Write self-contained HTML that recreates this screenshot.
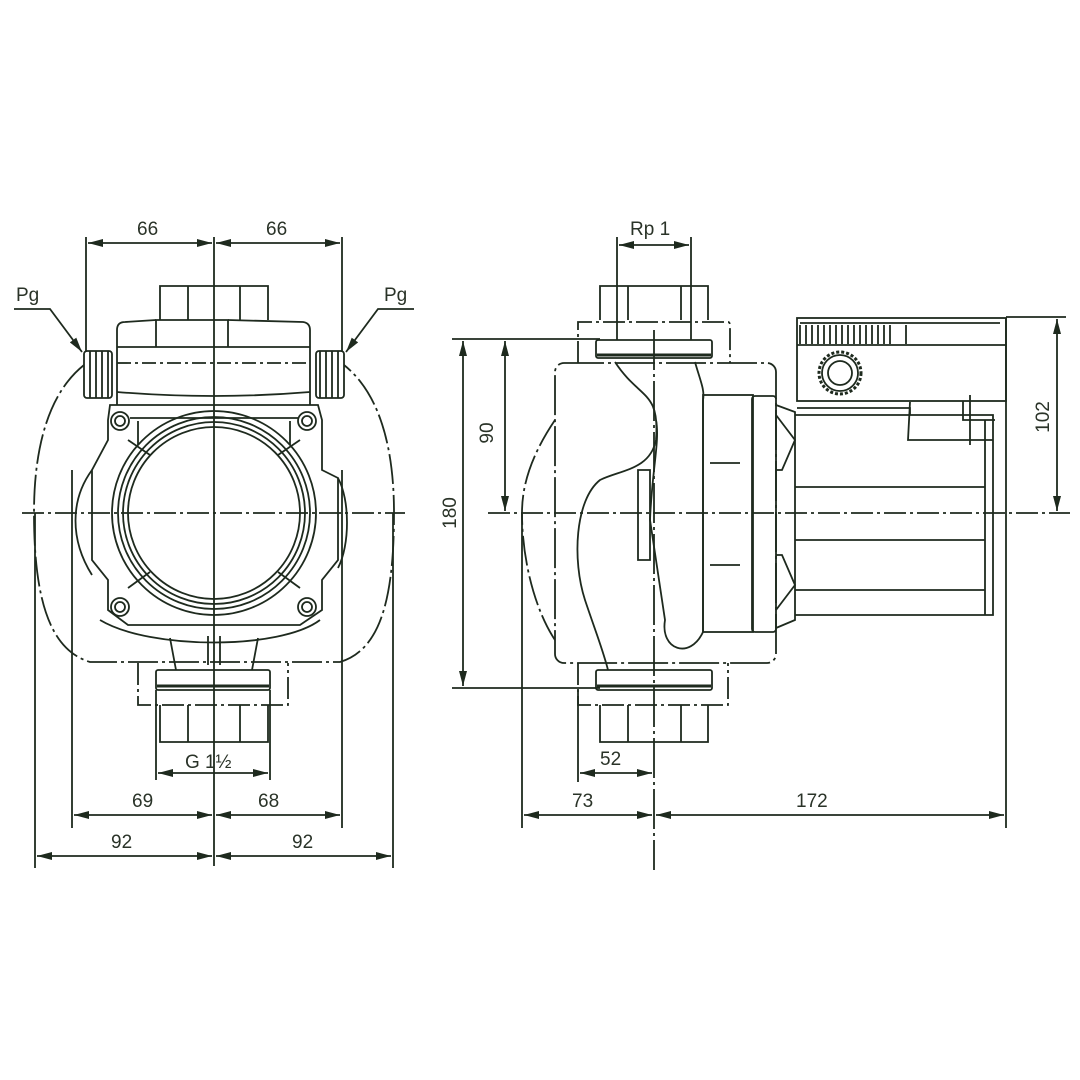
<!DOCTYPE html>
<html><head><meta charset="utf-8"><style>
html,body{margin:0;padding:0;background:#fff}
svg{display:block}
text{font-family:"Liberation Sans","DejaVu Sans",sans-serif;font-size:19px;fill:#2a3328}
</style></head><body>
<svg width="1080" height="1080" viewBox="0 0 1080 1080" xmlns="http://www.w3.org/2000/svg">
<defs>
<marker id="a" markerUnits="userSpaceOnUse" markerWidth="16" markerHeight="10" refX="15" refY="4" orient="auto-start-reverse"><path d="M0,0 L15,4 L0,8 z" fill="#1e2a1e"/></marker>
</defs>
<g fill="none" stroke="#1e2a1e" stroke-width="1.8">
<line x1="214" y1="237" x2="214" y2="866"/>
<line x1="22" y1="513" x2="405" y2="513" stroke-dasharray="22,4,3,4"/>
<line x1="86" y1="237" x2="86" y2="352"/><line x1="342" y1="237" x2="342" y2="352"/>
<line x1="88" y1="243" x2="212" y2="243" marker-start="url(#a)" marker-end="url(#a)"/>
<line x1="216" y1="243" x2="340" y2="243" marker-start="url(#a)" marker-end="url(#a)"/>
<polyline points="14,309 50,309 82,352" marker-end="url(#a)"/>
<polyline points="414,309 378,309 346,352" marker-end="url(#a)"/>
<path d="M160,320 V286 H268 V320"/><line x1="188" y1="286" x2="188" y2="320"/><line x1="240" y1="286" x2="240" y2="320"/>
<path d="M117,405 V330 Q117,322 125,322 L156,320 M228,320 L303,322 Q310,323 310,330 V405"/>
<path d="M156,347 V320 H228 V347"/>
<line x1="117" y1="347" x2="310" y2="347"/>
<line x1="117" y1="363" x2="310" y2="363" stroke-dasharray="14,4,3,4"/>
<path d="M117,392 Q214,400 310,392"/>
<rect x="84" y="351" width="28" height="47" rx="3"/>
<line x1="90" y1="351" x2="90" y2="398"/><line x1="96" y1="351" x2="96" y2="398"/><line x1="102" y1="351" x2="102" y2="398"/><line x1="108" y1="351" x2="108" y2="398"/>
<rect x="316" y="351" width="28" height="47" rx="3"/>
<line x1="320" y1="351" x2="320" y2="398"/><line x1="326" y1="351" x2="326" y2="398"/><line x1="332" y1="351" x2="332" y2="398"/><line x1="338" y1="351" x2="338" y2="398"/>
<path d="M84,365 C40,400 34,470 34,513 C34,600 50,650 90,662 H340 C380,650 394,600 394,513 C394,470 388,400 344,365" stroke-dasharray="30,4,3,4"/>
<line x1="72" y1="470" x2="72" y2="828"/><line x1="342" y1="470" x2="342" y2="828"/>
<line x1="35" y1="513" x2="35" y2="868"/><line x1="393" y1="513" x2="393" y2="868"/>
<path d="M110,405 H318 L322,420 V470 L338,478 V560 L322,580 V610 L300,625 H128 L108,610 V580 L92,560 V470 L108,440 V420 Z"/>
<path d="M92,470 C70,500 70,540 92,575 M338,478 C350,500 350,545 338,568"/>
<path d="M100,620 C150,650 280,650 320,620"/>
<circle cx="214" cy="513" r="86"/><circle cx="214" cy="513" r="91"/><circle cx="214" cy="513" r="96"/><circle cx="214" cy="513" r="102"/>
<line x1="138" y1="421" x2="138" y2="445"/><line x1="290" y1="421" x2="290" y2="445"/>
<line x1="130" y1="418" x2="298" y2="418"/>
<circle cx="120" cy="421" r="9"/><circle cx="120" cy="421" r="5"/>
<circle cx="307" cy="421" r="9"/><circle cx="307" cy="421" r="5"/>
<circle cx="120" cy="607" r="9"/><circle cx="120" cy="607" r="5"/>
<circle cx="307" cy="607" r="9"/><circle cx="307" cy="607" r="5"/>
<line x1="128" y1="440" x2="150" y2="455"/><line x1="300" y1="440" x2="278" y2="455"/>
<line x1="128" y1="588" x2="150" y2="572"/><line x1="300" y1="588" x2="278" y2="572"/>
<path d="M170,638 L176,670 M258,638 L252,670 M208,636 V665 M220,636 V665"/>
<rect x="156" y="670" width="114" height="20" rx="2"/>
<line x1="157" y1="686" x2="269" y2="686" stroke-width="3"/>
<path d="M138,663 V705 H288 V663" stroke-dasharray="22,4,3,4"/>
<path d="M160,705 V742 H268 V705"/><line x1="188" y1="705" x2="188" y2="742"/><line x1="240" y1="705" x2="240" y2="742"/>
<line x1="156" y1="690" x2="156" y2="780"/><line x1="270" y1="690" x2="270" y2="780"/>
<line x1="158" y1="773" x2="268" y2="773" marker-start="url(#a)" marker-end="url(#a)"/>
<line x1="74" y1="815" x2="212" y2="815" marker-start="url(#a)" marker-end="url(#a)"/>
<line x1="216" y1="815" x2="340" y2="815" marker-start="url(#a)" marker-end="url(#a)"/>
<line x1="37" y1="856" x2="212" y2="856" marker-start="url(#a)" marker-end="url(#a)"/>
<line x1="216" y1="856" x2="391" y2="856" marker-start="url(#a)" marker-end="url(#a)"/>

<line x1="488" y1="513" x2="1070" y2="513" stroke-dasharray="22,4,3,4"/>
<line x1="654" y1="330" x2="654" y2="870" stroke-dasharray="40,4,3,4"/>
<line x1="617" y1="237" x2="617" y2="340"/><line x1="691" y1="237" x2="691" y2="340"/>
<line x1="619" y1="245" x2="689" y2="245" marker-start="url(#a)" marker-end="url(#a)"/>
<path d="M600,320 V286 H708 V320"/><line x1="628" y1="286" x2="628" y2="320"/><line x1="681" y1="286" x2="681" y2="320"/>
<path d="M578,363 V322 H728 Q730,322 730,326 V363" stroke-dasharray="22,4,3,4"/>
<rect x="596" y="340" width="116" height="18" rx="2"/><line x1="597" y1="355" x2="711" y2="355" stroke-width="3"/>
<rect x="555" y="363" width="221" height="300" rx="9" stroke-dasharray="40,4,3,4"/>
<path d="M555,420 C528,460 522,490 522,513 C522,560 535,610 555,640" stroke-dasharray="30,4,3,4"/>
<path d="M615,362 C640,400 660,390 656,440 C650,470 620,470 600,480 C575,500 572,560 585,600 C595,630 603,650 608,670"/>
<path d="M695,362 C700,380 705,390 703,400 L703,632 C690,660 660,650 665,620 L650,520 C652,470 660,440 656,420"/>
<path d="M638,470 H650 V560 H638 Z"/>
<rect x="703" y="395" width="50" height="237"/>
<line x1="710" y1="463" x2="740" y2="463"/><line x1="710" y1="565" x2="740" y2="565"/>
<rect x="752" y="396" width="24" height="236" rx="3"/>
<path d="M776,405 L795,412 V620 L776,628"/>
<path d="M776,415 L795,440 L782,470 L776,470 M776,610 L795,585 L782,555 L776,555"/>
<path d="M795,415 H993 V615 H795"/>
<line x1="795" y1="487" x2="985" y2="487"/><line x1="795" y1="540" x2="985" y2="540"/><line x1="795" y1="590" x2="985" y2="590"/>
<line x1="985" y1="420" x2="985" y2="615"/>
<rect x="797" y="318" width="209" height="83"/>
<line x1="797" y1="345" x2="1006" y2="345"/>
<line x1="800" y1="323" x2="1000" y2="323"/>
<path d="M800,325 V344 M806,325 V344 M812,325 V344 M818,325 V344 M824,325 V344 M830,325 V344 M836,325 V344 M842,325 V344 M848,325 V344 M854,325 V344 M860,325 V344 M866,325 V344 M872,325 V344 M878,325 V344 M884,325 V344 M890,325 V344 M906,325 V344"/>
<circle cx="840" cy="373" r="21" stroke-dasharray="3,2" stroke-width="3"/><circle cx="840" cy="373" r="18"/><circle cx="840" cy="373" r="12"/>
<path d="M797,408 H910 V415 M910,402 L908,440 H993 M963,401 V420 H995 M970,395 V445"/>
<line x1="1006" y1="318" x2="1006" y2="828"/>
<line x1="1006" y1="317" x2="1066" y2="317"/><line x1="1057" y1="319" x2="1057" y2="511" marker-start="url(#a)" marker-end="url(#a)"/>
<line x1="452" y1="339" x2="600" y2="339"/><line x1="452" y1="688" x2="600" y2="688"/>
<line x1="463" y1="341" x2="463" y2="686" marker-start="url(#a)" marker-end="url(#a)"/>
<line x1="505" y1="341" x2="505" y2="511" marker-start="url(#a)" marker-end="url(#a)"/>
<rect x="596" y="670" width="116" height="20" rx="2"/><line x1="597" y1="686" x2="711" y2="686" stroke-width="3"/>
<path d="M578,663 V705 H728 V663" stroke-dasharray="22,4,3,4"/>
<path d="M600,705 V742 H708 V705"/><line x1="628" y1="705" x2="628" y2="742"/><line x1="681" y1="705" x2="681" y2="742"/>
<line x1="578" y1="690" x2="578" y2="782"/>
<line x1="522" y1="513" x2="522" y2="828"/>
<line x1="580" y1="773" x2="652" y2="773" marker-start="url(#a)" marker-end="url(#a)"/>
<line x1="524" y1="815" x2="652" y2="815" marker-start="url(#a)" marker-end="url(#a)"/>
<line x1="656" y1="815" x2="1004" y2="815" marker-start="url(#a)" marker-end="url(#a)"/>
</g>
<text x="137" y="235">66</text><text x="266" y="235">66</text>
<text x="16" y="301">Pg</text><text x="384" y="301">Pg</text>
<text x="185" y="768">G 1½</text>
<text x="132" y="807">69</text><text x="258" y="807">68</text>
<text x="111" y="848">92</text><text x="292" y="848">92</text>
<text x="630" y="235">Rp 1</text>
<text x="600" y="765">52</text>
<text x="572" y="807">73</text><text x="796" y="807">172</text>
<text transform="translate(456,513) rotate(-90)" text-anchor="middle">180</text>
<text transform="translate(493,433) rotate(-90)" text-anchor="middle">90</text>
<text transform="translate(1049,417) rotate(-90)" text-anchor="middle">102</text>
</svg>
</body></html>
